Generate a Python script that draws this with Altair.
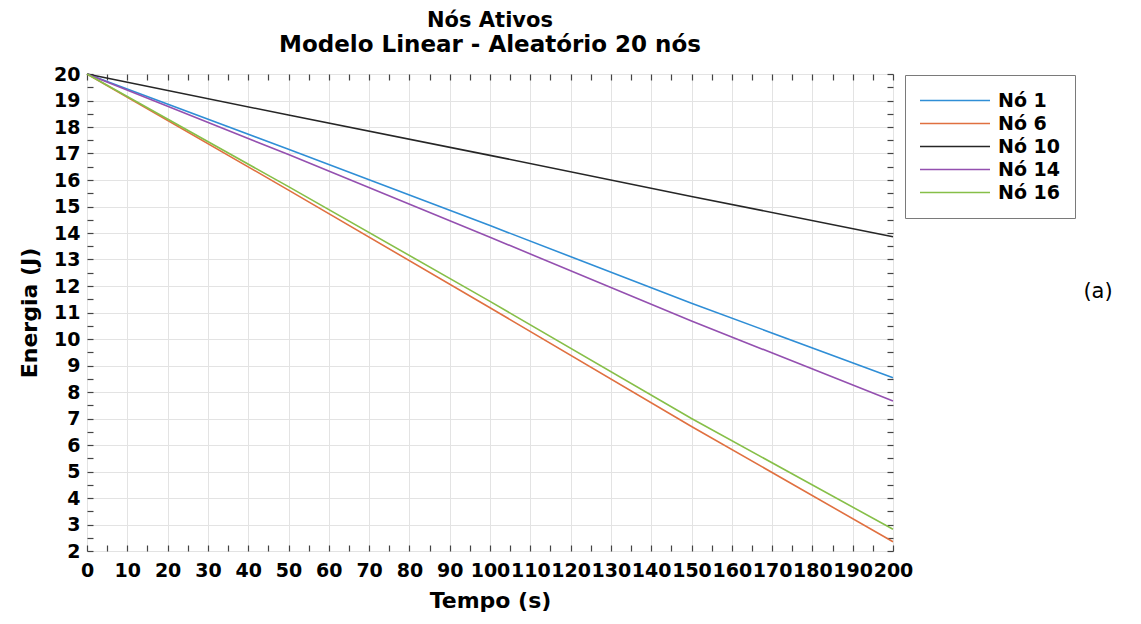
import altair as alt
import pandas as pd

# ---- data ----
tempo = [0, 50, 100, 150, 200]
no1 = [20.0, 17.16, 14.28, 11.35, 8.54]
no6 = [20.0, 15.62, 11.18, 6.70, 2.35]
no10 = [20.0, 18.45, 16.93, 15.38, 13.86]
no14 = [20.0, 16.96, 13.84, 10.68, 7.66]
no16 = [20.0, 15.75, 11.42, 7.00, 2.82]
series_names = ["Nó 1", "Nó 6", "Nó 10", "Nó 14", "Nó 16"]
series_colors = ["#2f8ed6", "#e07040", "#262626", "#9450b0", "#86bf48"]
x_ticks = [0, 10, 20, 30, 40, 50, 60, 70, 80, 90, 100, 110, 120, 130, 140,
           150, 160, 170, 180, 190, 200]
y_ticks = [2, 3, 4, 5, 6, 7, 8, 9, 10, 11, 12, 13, 14, 15, 16, 17, 18, 19, 20]
x_minor = [v * 5 for v in range(0, 41)]
y_minor = [v / 2 for v in range(4, 41)]

rows = []
for name, vals in zip(series_names, [no1, no6, no10, no14, no16]):
    for t, v in zip(tempo, vals):
        rows.append({"Tempo": t, "Energia": v, "No": name})
df = pd.DataFrame(rows)

FONT = "DejaVu Sans"

xscale = alt.Scale(domain=[0, 200], nice=False, zero=False)
yscale = alt.Scale(domain=[2, 20], nice=False, zero=False)

color = alt.Color(
    "No:N",
    scale=alt.Scale(domain=series_names, range=series_colors),
    legend=alt.Legend(
        orient="none", legendX=818, legendY=1, title=None,
        symbolType="stroke", symbolSize=4900, symbolStrokeWidth=1.6,
        clipHeight=23, rowPadding=0, labelFontSize=19, labelFontWeight="bold",
        labelFont=FONT, labelColor="black", labelOffset=7,
        padding=14, strokeColor="#7a7a7a", fillColor="white",
    ),
)

lines = alt.Chart(df).mark_line(strokeWidth=1.6).encode(
    x=alt.X("Tempo:Q", scale=xscale, title="Tempo (s)",
            axis=alt.Axis(values=x_ticks, grid=True, ticks=False, domain=False,
                          labelFont=FONT, labelFontSize=19, labelFontWeight="bold",
                          labelColor="black", labelPadding=10, labelFlush=False,
                          labelOverlap=False, labelBound=False,
                          titleFont=FONT, titleFontSize=22, titleFontWeight="bold",
                          titleColor="black", titlePadding=10,
                          gridColor="#e3e3e3", gridWidth=1)),
    y=alt.Y("Energia:Q", scale=yscale, title="Energia (J)",
            axis=alt.Axis(values=y_ticks, grid=True, ticks=False, domain=False,
                          labelFont=FONT, labelFontSize=19, labelFontWeight="bold",
                          labelColor="black", labelPadding=7, labelFlush=False,
                          labelOverlap=False, labelBound=False,
                          titleFont=FONT, titleFontSize=22, titleFontWeight="bold",
                          titleColor="black", titlePadding=12,
                          gridColor="#e3e3e3", gridWidth=1)),
    color=color,
    order=alt.Order("Tempo:Q"),
)

tick_axis = dict(labels=False, grid=False, domain=False, ticks=True, title=None,
                 tickColor="#444444", tickSize=6, offset=-6, tickWidth=1.2)

ticks_bl = alt.Chart(df).mark_line(opacity=0).encode(
    x=alt.X("Tempo:Q", scale=xscale,
            axis=alt.Axis(orient="bottom", values=x_minor, **tick_axis)),
    y=alt.Y("Energia:Q", scale=yscale,
            axis=alt.Axis(orient="left", values=y_minor, **tick_axis)),
    detail="No:N",
)

ticks_tr = alt.Chart(df).mark_line(opacity=0).encode(
    x=alt.X("Tempo:Q", scale=xscale,
            axis=alt.Axis(orient="top", values=x_minor, **tick_axis)),
    y=alt.Y("Energia:Q", scale=yscale,
            axis=alt.Axis(orient="right", values=y_minor, **tick_axis)),
    detail="No:N",
)

tag = alt.Chart(pd.DataFrame({"t": ["(a)"]})).mark_text(
    font=FONT, fontSize=21, color="black", align="center", baseline="middle"
).encode(text="t:N", x=alt.value(1011), y=alt.value(218))

chart = alt.layer(lines, ticks_bl, ticks_tr, tag).resolve_axis(
    x="independent", y="independent"
).properties(
    width=806, height=477,
    title=alt.TitleParams(
        "Nós Ativos",
        subtitle="Modelo Linear - Aleatório 20 nós",
        font=FONT, fontSize=21, fontWeight="bold", color="black",
        subtitleFont=FONT, subtitleFontSize=23, subtitleFontWeight="bold",
        subtitleColor="black", subtitlePadding=3,
        anchor="middle", offset=8,
    ),
    autosize=alt.AutoSizeParams(type="none"),
    padding={"left": 79, "top": 66, "right": 240, "bottom": 65},
).configure_view(
    stroke="#7a7a7a", strokeWidth=2.5
).configure(background="white")

chart.save("out.html", embed_options={"renderer": "svg", "actions": False})
